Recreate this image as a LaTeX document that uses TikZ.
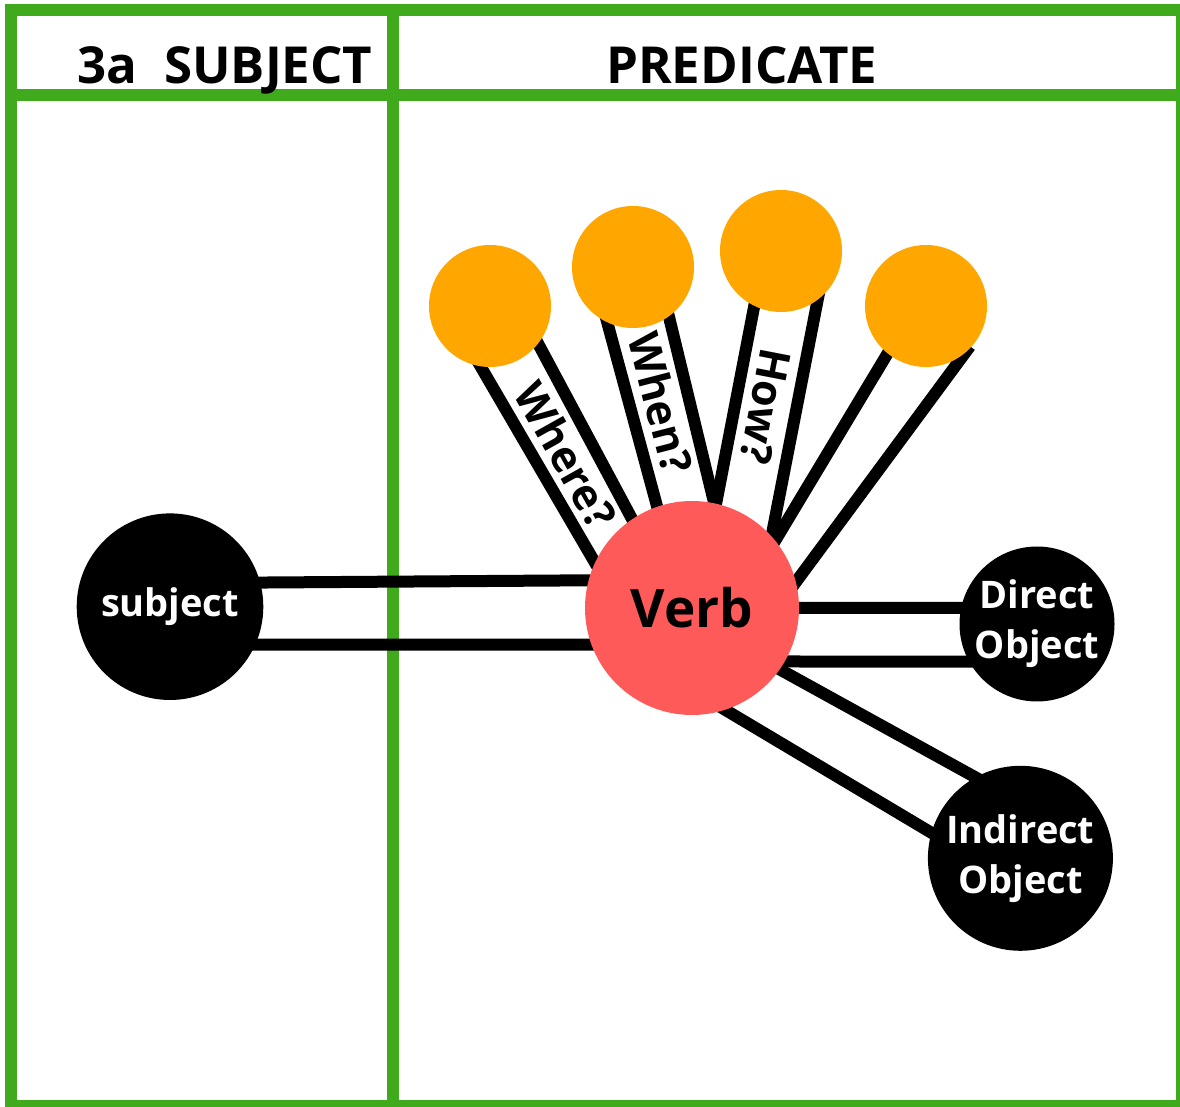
\documentclass[tikz,border=0pt]{standalone}
\usepackage{fontspec}
\setmainfont{Open Sans}
\usepackage{tikz}
\usetikzlibrary{positioning}
\definecolor{framegreen}{HTML}{3FAA1B}
\definecolor{verbred}{HTML}{FF5A5A}
\definecolor{askorange}{HTML}{FFA600}
\pgfdeclarelayer{frame}
\pgfdeclarelayer{bars}
\pgfsetlayers{frame,bars,main}

\begin{document}
\begin{tikzpicture}[
x=1pt, y=1pt,
frameline/.style={draw=framegreen, line width=12pt},
bar/.style={line width=12pt, shorten >=-8pt, shorten <=-8pt},
word/.style={circle, fill=black, text=white, inner sep=0pt, outer sep=0pt,
  align=center, font=\bfseries\fontsize{38}{50}\selectfont},
ask/.style={circle, fill=askorange, minimum size=122pt, inner sep=0pt, outer sep=0pt},
asklabel/.style={inner sep=0pt, font=\bfseries\fontsize{43}{43}\selectfont},
heading/.style={anchor=base west, inner sep=0pt, font=\bfseries\fontsize{51}{51}\selectfont}]
    \useasboundingbox (0,0) rectangle (1180,1106);

    % Draw table
    \begin{pgfonlayer}{frame}
    \draw[frameline] (11,0) rectangle (1182,1096);
    \draw[frameline] (11,1011) -- (1182,1011);
    \draw[frameline] (392.5,0) -- (392.5,1096);
    \end{pgfonlayer}
    \node[heading] (subjhead) at (77,1022.7) {3a\hspace{27pt}SUBJECT};
    \node[heading] (predhead) at (606,1022.7) {PREDICATE};

    % Circles
    \node[word, minimum size=186.6pt] (subj) at (170,499.3) {subject};
    \node[circle, fill=verbred, minimum size=214pt, inner sep=0pt, outer sep=0pt,
      font=\bfseries\fontsize{53}{53}\selectfont] (verb) at (692,498) {Verb};
    \node[word, minimum size=155pt] (dobj) at (1037,482) {Direct\\Object};
    \node[word, minimum size=185pt] (iobj) at (1020.4,247.7) {Indirect\\Object};
    \node[ask] (where) at (490,800) {};
    \node[ask] (when) at (633,839) {};
    \node[ask] (how) at (781,855) {};
    \node[ask] (other) at (926,800) {};

    % Bars
    \begin{pgfonlayer}{bars}
    \draw[bar] (subj.15.35) -- (verb.165.9);
    \draw[bar] (subj.-24.9) -- (verb.200.8);
    \draw[bar] (where.261.6) -- (verb.155.3);
    \draw[bar] (where.322.4) -- (verb.124.4);
    \draw[bar] (when.245.1) -- (verb.109.4);
    \draw[bar] (when.306.4) -- (verb.78);
    \draw[bar] (how.244.1) -- (verb.77.9);
    \draw[bar] (how.307.8) -- (verb.42.2);
    \draw[bar] (other.231) -- (verb.39);
    \draw[bar] (other.310.2) -- (verb.14.7);
    \draw[bar] (verb.0.3) -- (dobj.168);
    \draw[bar] (verb.-30.3) -- (dobj.209.4);
    \draw[bar] (verb.-35.1) -- (iobj.119.1);
    \draw[bar] (verb.-72.1) -- (iobj.164.6);
    \end{pgfonlayer}

    % Questions
    \node[asklabel, rotate=-60.7] (wherelabel) at (566,651) {Where?};
    \node[asklabel, rotate=-75.5] (whenlabel) at (661,703) {When?};
    \node[asklabel, rotate=-101] (howlabel) at (765.5,699.3) {How?};

\end{tikzpicture}
\end{document}
